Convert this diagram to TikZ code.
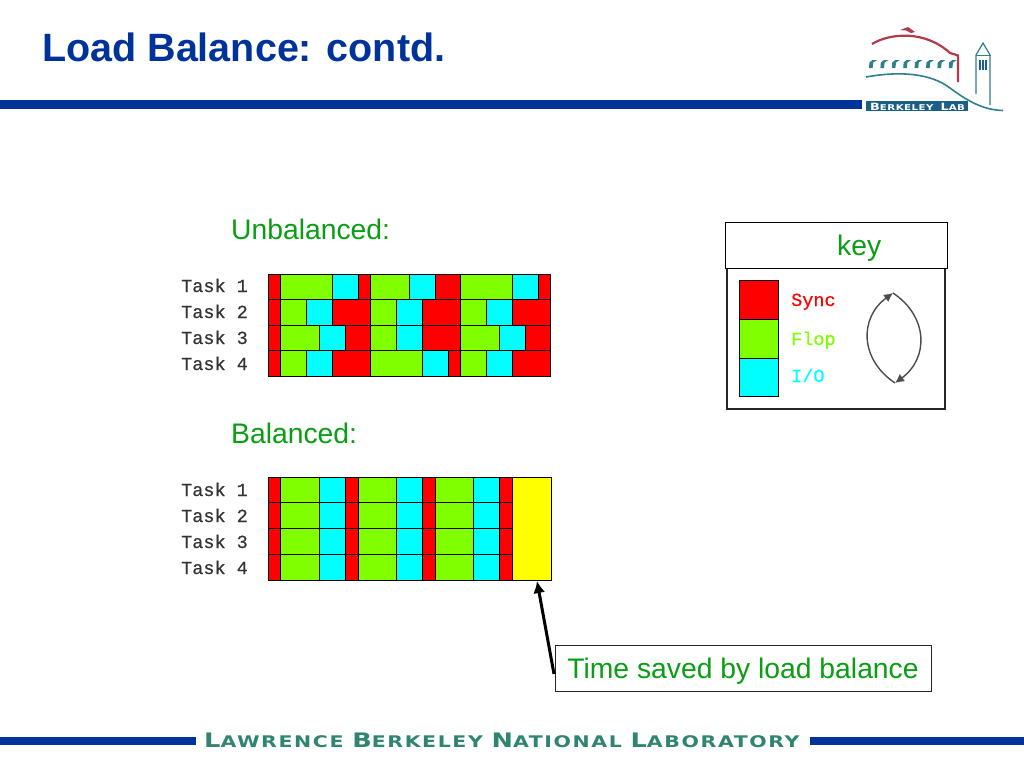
\documentclass[tikz,border=0pt]{standalone}
\usepackage{fontspec}
\usepackage{xcolor}
\usepackage{tikz}
\usetikzlibrary{arrows.meta}
\setmainfont{Liberation Sans}
\newfontfamily\pixmono[FakeBold=.5]{Liberation Mono}
\newfontfamily\lblfont[FakeStretch=1.28,LetterSpace=10,WordSpace=1.6]{DejaVu Sans Bold}
\newfontfamily\logofont[FakeStretch=1.28,LetterSpace=6,WordSpace=1.4]{DejaVu Sans Bold}
\definecolor{slideblue}{HTML}{003399}
\definecolor{slidegreen}{HTML}{0A9E14}
\definecolor{flopgreen}{HTML}{80FF00}
\definecolor{iocyan}{HTML}{00FFFF}
\definecolor{sparey}{HTML}{FFFF00}
\definecolor{lblteal}{HTML}{2F8570}
\definecolor{logored}{HTML}{B23A4A}
\definecolor{logoteal}{HTML}{2F7F8C}
\definecolor{logonavy}{HTML}{1B5E86}
\newcommand{\capword}[3]{{\fontsize{#1}{#1}\selectfont #2}{\fontsize{\numexpr#1*4/5\relax}{#1}\selectfont #3}}
\tikzset{
	heading/.style={anchor=base west,inner sep=0pt,font=\fontsize{28.3}{30}\selectfont,text=slidegreen},
	tasklabel/.style={anchor=base west,inner sep=0pt,font=\pixmono\fontsize{18.5}{20}\selectfont,text=black!80},
	keylabel/.style={anchor=base west,inner sep=0pt,font=\pixmono\fontsize{18.5}{20}\selectfont},
	cell/.style={draw=black,line width=.9pt},
	framebox/.style={draw=black,fill=white,line width=1pt,inner sep=0pt},
	looparc/.style={draw=black!70,line width=1.4pt,-{Latex[length=9pt,width=9pt]},bend left=55,looseness=1.2},
	barfill/.style={fill=slideblue}
}
\begin{document}
\begin{tikzpicture}[x=1pt,y=-1pt]
	\path[use as bounding box,fill=white] (0,0) rectangle (1024,768);%
	% header and footer
	\node[anchor=base west,inner sep=0pt,font=\bfseries\fontsize{39.5}{40}\selectfont,text=slideblue] (title) at (42,61) {Load Balance: contd.};%
	\fill[barfill] (0,100) rectangle (862,108.5);%
	\fill[barfill] (0,737) rectangle (196,745);%
	\fill[barfill] (810,737) rectangle (1024,745);%
	\node[anchor=base west,inner sep=0pt,text=lblteal,font=\lblfont] (lab) at (204,747) {\capword{20}{L}{AWRENCE} \capword{20}{B}{ERKELEY} \capword{20}{N}{ATIONAL} \capword{20}{L}{ABORATORY}};%
	% logo
	\fill[logonavy] (866,100.5) rectangle (968,111);%
	\node[anchor=base west,inner sep=0pt,text=white,font=\logofont] (logolab) at (870,110) {\capword{10}{B}{ERKELEY} \capword{10}{L}{AB}};%
	\draw[logored,line width=2.2pt] (872,44) .. controls (890,33) and (925,30) .. (950,53) -- (958,55.5) -- (958,82);%
	\fill[logored] (900,30) -- (908,27) -- (915,32) -- (911,33) -- (906,30.5) -- cycle;%
	\foreach \k in {0,...,7} {
		\fill[logoteal,shift={(869+11.4*\k,0)}] (0,68) -- (3.6,68) -- (4.2,62.5) -- (8,60) -- (3.5,60) -- (.4,62.5) -- cycle;%
	}
	\draw[logoteal,line width=1.6pt] (866,77) .. controls (900,71) and (930,73) .. (950,88) .. controls (970,103) and (985,110) .. (1003,110.5);%
	\draw[logoteal,line width=1.2pt] (976,94) -- (976,55) -- (983,43) -- (990,55) -- (990,105);%
	\draw[logoteal,line width=1pt] (975.5,55.5) -- (990.5,55.5);%
	\foreach \k in {0,1,2} {
		\fill[logonavy] (978.5+3*\k,60) rectangle (980.5+3*\k,70);%
	}
	% unbalanced chart
	\node[heading] (unbalanced) at (231,239) {Unbalanced:};%
	\foreach \row [count=\r from 0] in {{red/1,flopgreen/4,iocyan/2,red/1,flopgreen/3,iocyan/2,red/2,flopgreen/4,iocyan/2,red/1},{red/1,flopgreen/2,iocyan/2,red/3,flopgreen/2,iocyan/2,red/3,flopgreen/2,iocyan/2,red/3},{red/1,flopgreen/3,iocyan/2,red/2,flopgreen/2,iocyan/2,red/3,flopgreen/3,iocyan/2,red/2},{red/1,flopgreen/2,iocyan/2,red/3,flopgreen/4,iocyan/2,red/1,flopgreen/2,iocyan/2,red/3}} {
		\begin{scope}[shift={(268,274)},x=12.86pt,y=-25.6pt]
			\foreach \c/\w [remember=\xend as \xstart (initially 0),evaluate=\w as \xend using \xstart+\w] in \row {
				\filldraw[cell,fill=\c] (\xstart,\r) rectangle (\xend,\r+1);%
			}
		\end{scope}
	}
	\foreach \n/\ypos in {1/292,2/318,3/344,4/370} {
		\node[tasklabel] (utask\n) at (181,\ypos) {Task \n};%
	}
	% balanced chart
	\node[heading] (balanced) at (231,443) {Balanced:};%
	\foreach \r in {0,1,2,3} {
		\begin{scope}[shift={(268,477)},x=12.86pt,y=-25.75pt]
			\foreach \c/\w [remember=\xend as \xstart (initially 0),evaluate=\w as \xend using \xstart+\w] in {red/1,flopgreen/3,iocyan/2,red/1,flopgreen/3,iocyan/2,red/1,flopgreen/3,iocyan/2,red/1} {
				\filldraw[cell,fill=\c] (\xstart,\r) rectangle (\xend,\r+1);%
			}
		\end{scope}
	}
	\filldraw[cell,fill=sparey] (512.3,477) rectangle (551,580);%
	\foreach \n/\ypos in {1/496,2/522,3/548,4/574} {
		\node[tasklabel] (btask\n) at (181,\ypos) {Task \n};%
	}
	% key
	\draw[black!85,line width=1.6pt] (727,268) rectangle (945,409);%
	\node[framebox,minimum width=222pt,minimum height=46pt] (keybox) at (836,245) {};%
	\node[heading] (keytext) at (837,255) {key};%
	\filldraw[cell,fill=red] (739,280) rectangle (778,319);%
	\filldraw[cell,fill=flopgreen] (739,319) rectangle (778,358);%
	\filldraw[cell,fill=iocyan] (739,358) rectangle (778,396);%
	\node[keylabel,text=red] (synctext) at (791,306) {Sync};%
	\node[keylabel,text=flopgreen] (floptext) at (791,345) {Flop};%
	\node[keylabel,text=iocyan] (iotext) at (791,382) {I/O};%
	\coordinate (looptop) at (893,293);%
	\coordinate (loopbottom) at (895,383);%
	\draw[looparc] (loopbottom) to (looptop);%
	\draw[looparc] (looptop) to (loopbottom);%
	% callout
	\node[framebox,draw=black!85,minimum width=376pt,minimum height=46pt,text height=24pt,text depth=4pt,font=\fontsize{28.3}{30}\selectfont,text=slidegreen] (saved) at (743,668) {Time saved by load balance};%
	\coordinate (sparebottom) at (537,581);%
	\coordinate (savedcorner) at (554,674);%
	\draw[-{Latex[length=12pt,width=12pt]},line width=3pt] (savedcorner) -- (sparebottom);%
\end{tikzpicture}
\end{document}
